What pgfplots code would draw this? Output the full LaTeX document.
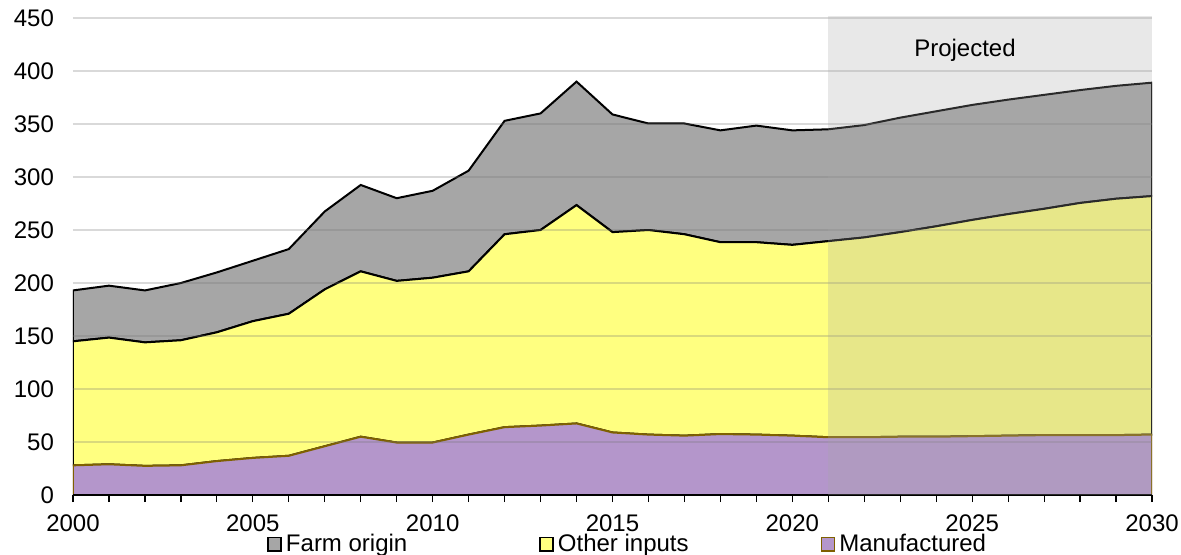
\documentclass[border=0pt]{standalone}
\usepackage{pgfplots}
\pgfplotsset{compat=1.18}
\usepackage{pgfplotstable}
\usepackage{fontspec}
\setmainfont{Liberation Sans}
\definecolor{farm}{HTML}{A6A6A6}
\definecolor{other}{HTML}{FFFF80}
\definecolor{manu}{HTML}{B496CB}
\definecolor{manuedge}{HTML}{7F6000}
\definecolor{gridc}{HTML}{737373}
\definecolor{proj}{HTML}{A6A6A6}
\pgfplotstableread{
year manu other farm
2000 28 117 48
2001 29 119.5 49
2002 27.5 116.5 49
2003 28 118 54
2004 32 121.5 56.5
2005 35 129 57
2006 37 134 61
2007 46 148 73.5
2008 55 156 81.5
2009 49.5 152.5 78
2010 49.5 155.5 82
2011 57 154 95
2012 64 182 107
2013 65.5 184.5 110
2014 67.5 206 116.5
2015 59 189 111
2016 57 193 100.5
2017 56 190 104.5
2018 57.5 181 105.5
2019 57 181.5 110
2020 56 180 108
2021 54.5 185 105.5
2022 54.5 188.5 106
2023 55 193 108
2024 55 198.5 108.5
2025 55.5 204 108.5
2026 56 209 108
2027 56.5 213.5 107.5
2028 56.5 219 106.5
2029 56.5 223 106.5
2030 57 225 107
}\datatable
\begin{document}
\begin{tikzpicture}
\useasboundingbox (-36.5pt,-29.5pt) rectangle (554pt,247.5pt);
\begin{axis}[
  scale only axis,
  width=539.5pt, height=238.5pt,
  xmin=2000, xmax=2030, ymin=0, ymax=450,
  enlargelimits=false,
  stack plots=y,
  axis on top,
  axis x line*=bottom, axis y line*=left,
  axis line style={-},
  x axis line style={line width=0.8pt, black},
  y axis line style={draw=none},
  xtick={2000,2005,...,2030},
  minor x tick num=4,
  ytick={0,50,...,450},
  tick align=outside,
  major tick length=3.5pt, minor tick length=3.5pt,
  x tick style={black, line width=0.6pt},
  y tick style={draw=none},
  ymajorgrids,
  major grid style={gridc, draw opacity=0.27, line width=0.75pt},
  /pgf/number format/assume math mode=true,
  /pgf/number format/1000 sep={},
  tick label style={font=\fontsize{12}{14}\selectfont, black},
  yticklabel style={xshift=-2.5pt},
  xticklabel style={yshift=-3pt},
  legend columns=3,
  reverse legend,
  legend style={draw=none, fill=none, inner sep=0pt,
    at={(0.1798,-0.1030)}, anchor=west,
    font=\fontsize{12}{14}\selectfont,
    /tikz/every even column/.append style={column sep=64pt},
    /tikz/every odd column/.append style={column sep=0pt}},
  legend cell align=left,
  legend image code/.code={\draw[#1, line width=0.8pt] (0pt,-3.3pt) rectangle (6.5pt,3.3pt);},
]
\addplot[fill=manu, draw=manuedge, line width=1pt] table[x=year, y=manu] {\datatable} \closedcycle;
\addlegendentry{Manufactured}
\addplot[fill=other, draw=black, line width=1pt] table[x=year, y=other] {\datatable} \closedcycle;
\addlegendentry{Other inputs}
\addplot[fill=farm, draw=black, line width=1pt] table[x=year, y=farm] {\datatable} \closedcycle;
\addlegendentry{Farm origin}
\addplot[black, line width=1pt, stack plots=false, forget plot] table[x=year, y=manu] {\datatable};
\coordinate (pA) at (axis cs:2021,0);
\coordinate (pB) at (axis cs:2030,452);
\coordinate (pT) at (axis cs:2024.8,420);
\end{axis}
\fill[proj, fill opacity=0.26] (pA) rectangle (pB);
\node[font=\fontsize{12}{14}\selectfont] at (pT) {Projected};
\end{tikzpicture}
\end{document}
